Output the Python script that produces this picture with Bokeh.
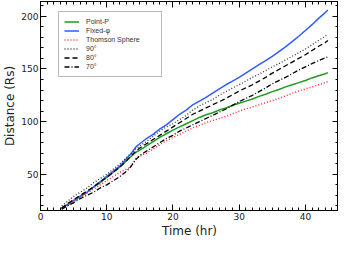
from bokeh.plotting import figure
from bokeh.models import (Legend, LegendItem, LinearAxis, Range1d, SingleIntervalTicker,
                          CustomJSTickFormatter)
from bokeh.embed import file_html
from bokeh.resources import INLINE

# time (hr)
time_hr = [3.2, 4, 5, 6, 7, 8, 9, 10, 11, 12, 13, 13.6, 14.4, 15, 16, 17, 18, 19, 20,
           21, 22, 23, 24, 25, 26, 27, 28, 29, 30, 31, 32, 33, 34, 35, 36, 37, 38, 39,
           40, 41, 42, 43, 43.4]

point_p = [18, 21, 25, 29, 33, 38, 42, 47, 52, 57, 63, 66.5, 71, 73, 77, 81, 85, 88.5, 92,
           95, 98, 101, 104, 106.5, 108.5, 111, 113, 115.5, 117.5, 119.5, 121.5, 124, 126, 128.5,
           130.5, 133, 135, 137, 139, 141.5, 143.5, 145.5, 146.5]

fixed_phi = [18, 21, 25, 29, 33, 38, 43, 48, 53, 58, 65, 69, 76, 79, 84, 88, 93, 97, 102,
             107, 111, 116, 119.5, 123, 127, 131, 135, 138.5, 142, 146, 150, 154, 158, 162,
             166.5, 171, 176, 181, 186.5, 192, 198, 203.5, 206]

thomson = [17, 20, 24, 28, 32, 36, 40, 44, 48, 52, 55, 57, 65, 67, 70, 74, 78, 82, 85,
           88, 91, 94, 96.5, 99, 101, 103, 105, 107.5, 110, 112, 114, 116, 118, 120,
           122, 124.5, 127, 129, 131, 133, 135, 137, 138]

deg90 = [20, 24, 29, 33, 37, 42, 46, 50, 55, 60, 66, 69.5, 74, 77, 81, 86, 91, 95, 98,
         102, 106, 111, 115, 118, 121, 125, 128.5, 132, 135, 138.5, 142, 145, 148.5, 152,
         155, 158.5, 162, 165.5, 169, 173, 177, 181, 183]

deg80 = [18, 22, 26, 30, 34, 38, 43, 47, 52, 57, 63, 67, 72, 75, 79, 83, 87, 91, 95,
         99, 103, 107, 110, 113, 116, 119, 122, 125.5, 129, 132, 135, 138.5, 142, 146,
         149.5, 153, 156.5, 160, 163.5, 167.5, 171.5, 175, 177]

deg70 = [17, 20, 23, 27, 30, 33, 37, 40, 44, 48, 53, 57, 64, 68, 72, 76, 80, 84, 87,
         91, 94, 97, 100, 103, 106, 109, 112, 115.5, 119, 122, 125, 128.5, 132, 136,
         139, 142, 145.5, 149, 152, 155, 158, 160.5, 161.5]

series_labels = ["Point-P", "Fixed-\u03c6", "Thomson Sphere", "90\u00b0", "80\u00b0", "70\u00b0"]
x_title = "Time (hr)"
y_title = "Distance (Rs)"

p = figure(width=338, height=240, x_range=Range1d(0, 45), y_range=Range1d(15.7, 214),
           output_backend="svg", toolbar_location=None, title=None,
           min_border_left=0, min_border_right=0, min_border_top=1, min_border_bottom=0)
p.grid.visible = False
p.outline_line_color = "black"
p.background_fill_color = "white"
p.border_fill_color = "white"

def style_axis(ax, labels=True):
    ax.axis_line_color = "black"
    ax.major_tick_in = 6
    ax.major_tick_out = 0
    ax.minor_tick_in = 3
    ax.minor_tick_out = 0
    ax.major_tick_line_color = "black"
    ax.minor_tick_line_color = "black"
    if labels:
        ax.major_label_text_font = "DejaVu Sans"
        ax.major_label_text_font_size = "9px"
        ax.major_label_text_color = "#222222"
        ax.major_label_standoff = 2
        ax.axis_label_text_font = "DejaVu Sans"
        ax.axis_label_text_font_size = "12px"
        ax.axis_label_text_font_style = "normal"
        ax.axis_label_text_color = "#222222"
        ax.axis_label_standoff = 1
    else:
        ax.formatter = CustomJSTickFormatter(code="return ''")
        ax.major_label_standoff = 0
        ax.axis_label_standoff = 0

p.xaxis.ticker = SingleIntervalTicker(interval=10, num_minor_ticks=10)
p.yaxis.ticker = SingleIntervalTicker(interval=50, num_minor_ticks=5)
p.xaxis.axis_label = x_title
p.yaxis.axis_label = y_title
style_axis(p.xaxis[0])
style_axis(p.yaxis[0])

top = LinearAxis(ticker=SingleIntervalTicker(interval=10, num_minor_ticks=10))
right = LinearAxis(ticker=SingleIntervalTicker(interval=50, num_minor_ticks=5))
style_axis(top, labels=False)
style_axis(right, labels=False)
p.add_layout(top, "above")
p.add_layout(right, "right")

r1 = p.line(time_hr, point_p, line_color="#1f9a1f", line_width=1.5)
r2 = p.line(time_hr, fixed_phi, line_color="#2f5cff", line_width=1.5)
r3 = p.line(time_hr, thomson, line_color="#ff2a2a", line_width=1.5, line_dash="1 2")
r4 = p.line(time_hr, deg90, line_color="#333333", line_width=1.3, line_dash="1 2")
r5 = p.line(time_hr, deg80, line_color="black", line_width=1.3, line_dash="5 3")
r6 = p.line(time_hr, deg70, line_color="black", line_width=1.3, line_dash="5 2 1 2")

items = [LegendItem(label=lab, renderers=[r]) for lab, r in zip(series_labels, [r1, r2, r3, r4, r5, r6])]
legend = Legend(items=items, location=(18, 133))
legend.label_text_font = "Liberation Sans"
legend.label_text_font_size = "7px"
legend.label_text_color = "#333333"
legend.label_height = 9
legend.glyph_height = 9
legend.glyph_width = 15
legend.label_standoff = 7
legend.label_width = 70
legend.spacing = 0
legend.padding = 5
legend.margin = 0
legend.border_line_color = "#777777"
legend.border_line_width = 1
legend.background_fill_alpha = 1
p.add_layout(legend, "center")

open("out.html", "w").write(file_html(p, INLINE))
